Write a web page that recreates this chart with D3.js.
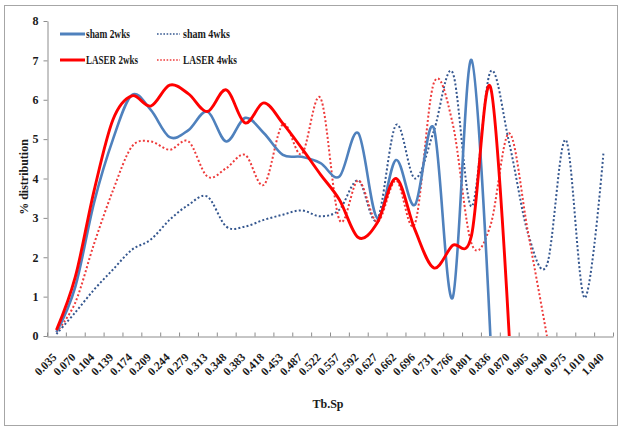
<!DOCTYPE html>
<html>
<head>
<meta charset="utf-8">
<script src="https://cdn.jsdelivr.net/npm/d3@7"></script>
<style>
  html, body { margin: 0; padding: 0; background: #ffffff; }
  svg { display: block; }
  text { font-family: "Liberation Serif", "Times New Roman", serif; font-weight: bold; }
</style>
</head>
<body>
<svg id="chart" width="619" height="427"></svg>
<script>
// ---------------- DATA ----------------
const categories = ["0.035","0.070","0.104","0.139","0.174","0.209","0.244","0.279","0.313","0.348",
  "0.383","0.418","0.453","0.487","0.522","0.557","0.592","0.627","0.662","0.696",
  "0.731","0.766","0.801","0.836","0.870","0.905","0.940","0.975","1.010","1.040"];

const sham2wks = [0.1, 1.25, 3.4, 5.0, 6.12, 5.74, 5.05, 5.23, 5.7, 4.94,
  5.54, 5.15, 4.6, 4.55, 4.39, 4.05, 5.15, 3.0, 4.47, 3.33,
  5.28, 0.97, 7.01, 0];

const sham4wks = [0.05, 0.6, 1.18, 1.69, 2.19, 2.45, 2.95, 3.33, 3.54, 2.78,
  2.78, 2.95, 3.08, 3.19, 3.04, 3.21, 3.95, 2.95, 5.36, 4.0,
  5.2, 6.69, 3.29, 6.71, 4.9, 2.6, 1.81, 4.98, 0.97, 4.68];

const laser2wks = [0.15, 1.5, 3.7, 5.5, 6.1, 5.84, 6.37, 6.15, 5.7, 6.25,
  5.41, 5.92, 5.4, 4.77, 4.1, 3.46, 2.5, 2.87, 4.0, 2.7,
  1.73, 2.3, 2.55, 6.33, 0];

const laser4wks = [0.1, 0.85, 2.35, 3.7, 4.81, 4.94, 4.73, 4.94, 4.05, 4.26,
  4.6, 3.84, 5.38, 4.62, 6.04, 2.95, 3.95, 2.9, 3.95, 2.85,
  6.42, 5.4, 2.35, 2.8, 5.15, 2.62, 0];

const yTicks = [0, 1, 2, 3, 4, 5, 6, 7, 8];

const seriesNames = ["sham 2wks", "sham 4wks", "LASER 2wks", "LASER 4wks"];

// ---------------- LAYOUT ----------------
const svg = d3.select("#chart");
const X0 = 47, X1 = 613, Y0 = 336, Y8 = 21;

svg.append("rect")
  .attr("x", 4.5).attr("y", 5.5).attr("width", 613).attr("height", 420)
  .attr("fill", "#ffffff").attr("stroke", "#a6a6a6").attr("stroke-width", 1);

const xBand = d3.scaleBand().domain(categories).range([X0, X1]).paddingInner(0).paddingOuter(0);
const bw = xBand.bandwidth();
const xIdx = d3.scaleLinear().domain([0, categories.length]).range([X0, X1]);
const y = d3.scaleLinear().domain([0, 8]).range([Y0, Y8]);

// Y axis
const yAxis = svg.append("g")
  .attr("transform", `translate(${X0 + 0.5},0)`)
  .call(d3.axisLeft(y).tickValues(yTicks).tickFormat(d3.format("d")).tickSizeOuter(0).tickSizeInner(4).tickPadding(5));
yAxis.select(".domain").attr("stroke", "#8c8c8c");
yAxis.selectAll(".tick line").attr("stroke", "#8c8c8c");
yAxis.selectAll(".tick text")
  .attr("font-size", 12).attr("fill", "#1a1a1a")
  .style("font-family", "'Liberation Serif', serif").style("font-weight", "bold");

// X axis: line + boundary ticks
const xAxisTicks = svg.append("g")
  .attr("transform", `translate(0,${Y0 + 0.5})`)
  .call(d3.axisBottom(xIdx).tickValues(d3.range(categories.length + 1)).tickFormat("").tickSizeOuter(0).tickSizeInner(-4));
xAxisTicks.select(".domain").attr("stroke", "#8c8c8c");
xAxisTicks.selectAll(".tick line").attr("stroke", "#8c8c8c");

// X labels
const xLab = svg.append("g")
  .attr("transform", `translate(0,${Y0})`)
  .call(d3.axisBottom(xBand).tickSize(0).tickSizeOuter(0));
xLab.select(".domain").remove();
xLab.selectAll(".tick text")
  .attr("text-anchor", "end")
  .attr("dy", null).attr("y", null)
  .attr("transform", "translate(1,22) rotate(-45)")
  .attr("font-size", 11.5).attr("fill", "#1a1a1a")
  .style("font-family", "'Liberation Serif', serif").style("font-weight", "bold");

// Axis titles
svg.append("text")
  .attr("x", 328).attr("y", 408).attr("text-anchor", "middle")
  .attr("font-size", 12).attr("fill", "#1a1a1a").text("Tb.Sp");
svg.append("text")
  .attr("transform", "translate(28,177) rotate(-90)")
  .attr("text-anchor", "middle")
  .attr("font-size", 12).attr("fill", "#1a1a1a").text("% distribution");

// ---------------- LINES ----------------
const cx = i => xBand(categories[i]) + bw / 2;
const line = d3.line()
  .x(d => cx(d.i)).y(d => y(d.v))
  .curve(d3.curveCardinal.tension(0));

const toPts = arr => arr.map((v, i) => ({ i, v })).filter(d => d.v !== null && d.v !== undefined);

const series = [
  { name: seriesNames[1], data: sham4wks, color: "#35578f", width: 2, dash: "2,2.2" },
  { name: seriesNames[3], data: laser4wks, color: "#ee3b3b", width: 2, dash: "2,2.2" },
  { name: seriesNames[0], data: sham2wks, color: "#4f81bd", width: 2.6, dash: null },
  { name: seriesNames[2], data: laser2wks, color: "#ff0000", width: 2.9, dash: null }
];

const plot = svg.append("g");
series.forEach(s => {
  plot.append("path")
    .datum(toPts(s.data))
    .attr("d", line)
    .attr("fill", "none")
    .attr("stroke", s.color)
    .attr("stroke-width", s.width)
    .attr("stroke-dasharray", s.dash)
    .attr("stroke-linejoin", "round");
});

// ---------------- LEGEND ----------------
const legendItems = [
  { s: series[2], x: 60, y: 34, tw: 44 },
  { s: series[0], x: 157, y: 34, tw: 47 },
  { s: series[3], x: 60, y: 60, tw: 52 },
  { s: series[1], x: 157, y: 60, tw: 54 }
];
const lg = svg.append("g");
legendItems.forEach(it => {
  const solid = !it.s.dash;
  lg.append("line")
    .attr("x1", it.x).attr("x2", solid ? it.x + 25 : it.x + 23)
    .attr("y1", it.y).attr("y2", it.y)
    .attr("stroke", it.s.color)
    .attr("stroke-width", solid ? 3 : 1.6)
    .attr("stroke-dasharray", it.s.dash ? "1.6,1.6" : null);
  lg.append("text")
    .attr("x", it.x + 26).attr("y", it.y + 4)
    .attr("font-size", 12).attr("fill", "#1a1a1a")
    .attr("textLength", it.tw).attr("lengthAdjust", "spacingAndGlyphs")
    .text(it.s.name);
});
</script>
</body>
</html>
